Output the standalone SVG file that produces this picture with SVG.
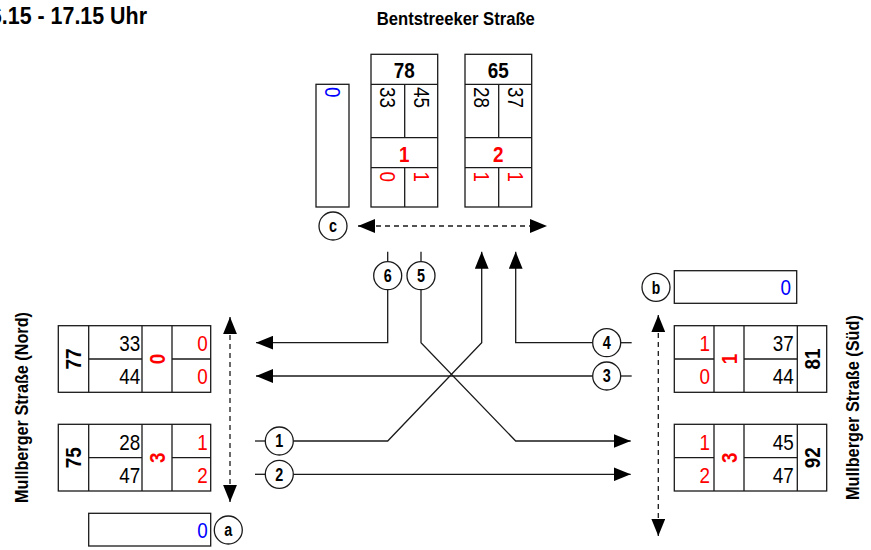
<svg xmlns="http://www.w3.org/2000/svg" width="871" height="550" viewBox="0 0 871 550">
<style>
.bx{fill:#fff;stroke:#1a1a1a;stroke-width:1.3}
.ln{fill:none;stroke:#1a1a1a;stroke-width:1.3}
.ds{fill:none;stroke:#1a1a1a;stroke-width:1.3;stroke-dasharray:5 4}
.t{font-family:"Liberation Sans Narrow","Liberation Sans",Arial,sans-serif;font-size:22px;fill:#000}
.b{font-weight:bold}
.r{fill:#f00}
.bl{fill:#00f}
.e{text-anchor:end}
.m{text-anchor:middle}
.cl{font-family:"Liberation Sans Narrow","Liberation Sans",Arial,sans-serif;font-size:18px;font-weight:bold;text-anchor:middle;fill:#000}
.cc{fill:#fff;stroke:#1a1a1a;stroke-width:1.3}
.lb{font-family:"Liberation Sans Narrow","Liberation Sans",Arial,sans-serif;font-size:19px;font-weight:bold;fill:#000;text-anchor:middle}
</style>
<defs>
<marker id="ah" markerUnits="userSpaceOnUse" markerWidth="17" markerHeight="14" viewBox="0 0 16 13" refX="16" refY="6.5" orient="auto-start-reverse">
<path d="M0,0 L16,6.5 L0,13 z" fill="#000"/>
</marker>
</defs>

<g id="title">
<text class="lb" x="-22" y="24" style="text-anchor:start;font-size:23px" textLength="169" lengthAdjust="spacingAndGlyphs">16.15 - 17.15 Uhr</text>
<text class="lb" x="455.8" y="25" textLength="158" lengthAdjust="spacingAndGlyphs">Bentstreeker Straße</text>
<text class="lb" transform="translate(27.5,407.5) rotate(-90)" textLength="191" lengthAdjust="spacingAndGlyphs">Mullberger Straße (Nord)</text>
<text class="lb" transform="translate(859,407.5) rotate(-90)" textLength="185" lengthAdjust="spacingAndGlyphs">Mullberger Straße (Süd)</text>
</g>

<g id="connectors">
<line class="ds" x1="358" y1="226" x2="547" y2="226" marker-start="url(#ah)" marker-end="url(#ah)"/>
<line class="ds" x1="230" y1="317" x2="230" y2="502" marker-start="url(#ah)" marker-end="url(#ah)"/>
<line class="ds" x1="658.3" y1="315" x2="658.3" y2="536" marker-start="url(#ah)" marker-end="url(#ah)"/>
<path class="ln" d="M387.7,251.7 V261.7"/>
<path class="ln" d="M387.7,289.7 V342.7 H256" marker-end="url(#ah)"/>
<path class="ln" d="M421,251.7 V261.7"/>
<path class="ln" d="M421,289.7 V342.7 L515.7,441 H630.7" marker-end="url(#ah)"/>
<path class="ln" d="M255,441 H265.3"/>
<path class="ln" d="M293.3,441 H387.7 L481.7,342.7 V251.7" marker-end="url(#ah)"/>
<path class="ln" d="M255,474.3 H265.3"/>
<path class="ln" d="M293.3,474.3 H630.7" marker-end="url(#ah)"/>
<path class="ln" d="M620.7,342.7 H631.7"/>
<path class="ln" d="M592.7,342.7 H515.7 V251.7" marker-end="url(#ah)"/>
<path class="ln" d="M620.7,376 H631.7"/>
<path class="ln" d="M592.7,376 H256" marker-end="url(#ah)"/>
</g>

<g id="circle-1"><circle class="cc" cx="279.3" cy="441" r="14"/><text class="cl" x="279.3" y="447.3" textLength="8" lengthAdjust="spacingAndGlyphs">1</text></g>
<g id="circle-2"><circle class="cc" cx="279.3" cy="474.3" r="14"/><text class="cl" x="279.3" y="480.6" textLength="8" lengthAdjust="spacingAndGlyphs">2</text></g>
<g id="circle-3"><circle class="cc" cx="606.7" cy="376" r="14"/><text class="cl" x="606.7" y="382.3" textLength="8" lengthAdjust="spacingAndGlyphs">3</text></g>
<g id="circle-4"><circle class="cc" cx="606.7" cy="342.7" r="14"/><text class="cl" x="606.7" y="349" textLength="8" lengthAdjust="spacingAndGlyphs">4</text></g>
<g id="circle-5"><circle class="cc" cx="421" cy="275.7" r="14"/><text class="cl" x="421" y="282" textLength="8" lengthAdjust="spacingAndGlyphs">5</text></g>
<g id="circle-6"><circle class="cc" cx="387.7" cy="275.7" r="14"/><text class="cl" x="387.7" y="282" textLength="8" lengthAdjust="spacingAndGlyphs">6</text></g>
<g id="circle-a"><circle class="cc" cx="228.3" cy="530" r="14"/><text class="cl" x="228.3" y="535.5" textLength="8" lengthAdjust="spacingAndGlyphs">a</text></g>
<g id="circle-b"><circle class="cc" cx="656" cy="287.3" r="14"/><text class="cl" x="656" y="293.6" textLength="8.5" lengthAdjust="spacingAndGlyphs">b</text></g>
<g id="circle-c"><circle class="cc" cx="333" cy="226" r="14"/><text class="cl" x="333" y="231.5" textLength="8" lengthAdjust="spacingAndGlyphs">c</text></g>

<g id="box-a">
<rect class="bx" x="88.7" y="513.3" width="122" height="32.7"/>
<text class="t bl e" x="207.7" y="537.5" textLength="10.5" lengthAdjust="spacingAndGlyphs">0</text>
</g>
<g id="box-b">
<rect class="bx" x="674.3" y="270.7" width="122.4" height="32.6"/>
<text class="t bl e" x="791" y="295" textLength="10.5" lengthAdjust="spacingAndGlyphs">0</text>
</g>
<g id="box-c">
<rect class="bx" x="316" y="84.3" width="33" height="122.7"/>
<text class="t bl" transform="translate(325,87) rotate(90)" textLength="10.5" lengthAdjust="spacingAndGlyphs">0</text>
</g>

<g id="node-nord-77">
<rect class="bx" x="58.3" y="325.7" width="152.4" height="66.6"/>
<path class="ln" d="M88.7,325.7 V392.3 M142,325.7 V392.3 M172,325.7 V392.3 M88.7,359 H142 M172,359 H210.7"/>
<text class="t b m" transform="translate(81,359) rotate(-90)" textLength="21" lengthAdjust="spacingAndGlyphs">77</text>
<text class="t e" x="140.3" y="351" textLength="21" lengthAdjust="spacingAndGlyphs">33</text>
<text class="t e" x="140.3" y="384" textLength="21" lengthAdjust="spacingAndGlyphs">44</text>
<text class="t b r m" transform="translate(165,359) rotate(-90)" textLength="10.5" lengthAdjust="spacingAndGlyphs">0</text>
<text class="t r e" x="207.7" y="351" textLength="10.5" lengthAdjust="spacingAndGlyphs">0</text>
<text class="t r e" x="207.7" y="384" textLength="10.5" lengthAdjust="spacingAndGlyphs">0</text>
</g>

<g id="node-nord-75">
<rect class="bx" x="58.3" y="424.3" width="152.4" height="66.7"/>
<path class="ln" d="M88.7,424.3 V491 M142,424.3 V491 M172,424.3 V491 M88.7,457.7 H142 M172,457.7 H210.7"/>
<text class="t b m" transform="translate(81,457.7) rotate(-90)" textLength="21" lengthAdjust="spacingAndGlyphs">75</text>
<text class="t e" x="140.3" y="449.6" textLength="21" lengthAdjust="spacingAndGlyphs">28</text>
<text class="t e" x="140.3" y="482.6" textLength="21" lengthAdjust="spacingAndGlyphs">47</text>
<text class="t b r m" transform="translate(165,457.7) rotate(-90)" textLength="10.5" lengthAdjust="spacingAndGlyphs">3</text>
<text class="t r e" x="207.7" y="449.6" textLength="10.5" lengthAdjust="spacingAndGlyphs">1</text>
<text class="t r e" x="207.7" y="482.6" textLength="10.5" lengthAdjust="spacingAndGlyphs">2</text>
</g>

<g id="node-sued-81">
<rect class="bx" x="674.3" y="325.7" width="152.4" height="66.6"/>
<path class="ln" d="M714,325.7 V392.3 M744,325.7 V392.3 M797.3,325.7 V392.3 M674.3,359 H714 M744,359 H797.3"/>
<text class="t r e" x="710" y="351" textLength="10.5" lengthAdjust="spacingAndGlyphs">1</text>
<text class="t r e" x="710" y="384" textLength="10.5" lengthAdjust="spacingAndGlyphs">0</text>
<text class="t b r m" transform="translate(737,359) rotate(-90)" textLength="10.5" lengthAdjust="spacingAndGlyphs">1</text>
<text class="t e" x="793.7" y="351" textLength="21" lengthAdjust="spacingAndGlyphs">37</text>
<text class="t e" x="793.7" y="384" textLength="21" lengthAdjust="spacingAndGlyphs">44</text>
<text class="t b m" transform="translate(820,359) rotate(-90)" textLength="21" lengthAdjust="spacingAndGlyphs">81</text>
</g>

<g id="node-sued-92">
<rect class="bx" x="674.3" y="424.3" width="152.4" height="66.7"/>
<path class="ln" d="M714,424.3 V491 M744,424.3 V491 M797.3,424.3 V491 M674.3,457.7 H714 M744,457.7 H797.3"/>
<text class="t r e" x="710" y="449.6" textLength="10.5" lengthAdjust="spacingAndGlyphs">1</text>
<text class="t r e" x="710" y="482.6" textLength="10.5" lengthAdjust="spacingAndGlyphs">2</text>
<text class="t b r m" transform="translate(737,457.7) rotate(-90)" textLength="10.5" lengthAdjust="spacingAndGlyphs">3</text>
<text class="t e" x="793.7" y="449.6" textLength="21" lengthAdjust="spacingAndGlyphs">45</text>
<text class="t e" x="793.7" y="482.6" textLength="21" lengthAdjust="spacingAndGlyphs">47</text>
<text class="t b m" transform="translate(820,457.7) rotate(-90)" textLength="21" lengthAdjust="spacingAndGlyphs">92</text>
</g>

<g id="node-bent-78">
<rect class="bx" x="371" y="54.3" width="66.7" height="152.7"/>
<path class="ln" d="M371,84.3 H437.7 M371,137.7 H437.7 M371,167.7 H437.7 M404.7,84.3 V137.7 M404.7,167.7 V207"/>
<text class="t b m" x="404.3" y="78" textLength="21" lengthAdjust="spacingAndGlyphs">78</text>
<text class="t" transform="translate(380,87) rotate(90)" textLength="21" lengthAdjust="spacingAndGlyphs">33</text>
<text class="t" transform="translate(413.5,87) rotate(90)" textLength="21" lengthAdjust="spacingAndGlyphs">45</text>
<text class="t b r m" x="404.3" y="161.5" textLength="10.5" lengthAdjust="spacingAndGlyphs">1</text>
<text class="t r" transform="translate(380,171.5) rotate(90)" textLength="10.5" lengthAdjust="spacingAndGlyphs">0</text>
<text class="t r" transform="translate(413.5,171.5) rotate(90)" textLength="10.5" lengthAdjust="spacingAndGlyphs">1</text>
</g>

<g id="node-bent-65">
<rect class="bx" x="465" y="54.3" width="66.7" height="152.7"/>
<path class="ln" d="M465,84.3 H531.7 M465,137.7 H531.7 M465,167.7 H531.7 M498.7,84.3 V137.7 M498.7,167.7 V207"/>
<text class="t b m" x="498.3" y="78" textLength="21" lengthAdjust="spacingAndGlyphs">65</text>
<text class="t" transform="translate(474,87) rotate(90)" textLength="21" lengthAdjust="spacingAndGlyphs">28</text>
<text class="t" transform="translate(507.5,87) rotate(90)" textLength="21" lengthAdjust="spacingAndGlyphs">37</text>
<text class="t b r m" x="498.3" y="161.5" textLength="10.5" lengthAdjust="spacingAndGlyphs">2</text>
<text class="t r" transform="translate(474,171.5) rotate(90)" textLength="10.5" lengthAdjust="spacingAndGlyphs">1</text>
<text class="t r" transform="translate(507.5,171.5) rotate(90)" textLength="10.5" lengthAdjust="spacingAndGlyphs">1</text>
</g>
</svg>
